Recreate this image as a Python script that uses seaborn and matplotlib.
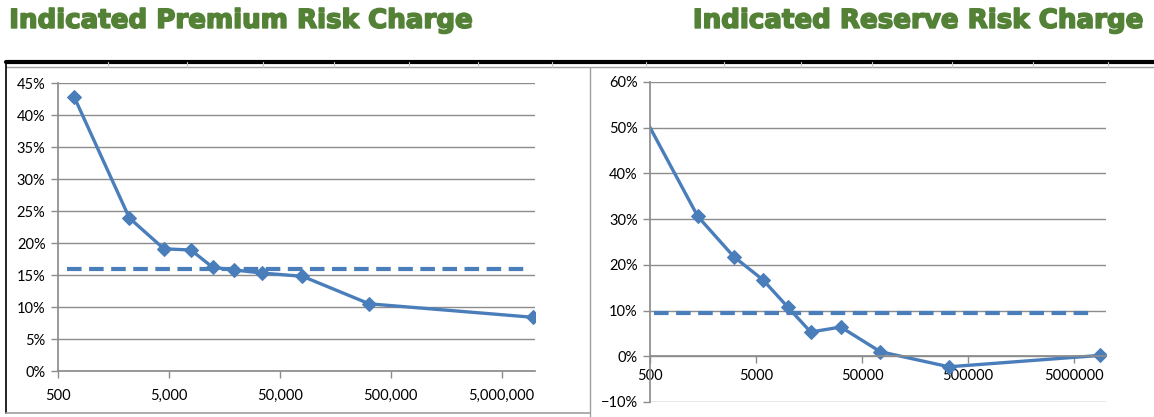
import seaborn as sns
import matplotlib.pyplot as plt
import matplotlib.ticker as mticker
import matplotlib.patheffects as pe
from matplotlib.lines import Line2D

# values
prem_x = [700, 2200, 4500, 7900, 12400, 19300, 34600, 80000, 320000, 9500000]
prem_y = [0.428, 0.239, 0.191, 0.189, 0.162, 0.158, 0.153, 0.148, 0.105, 0.084]
prem_avg_x = [600, 8000000]
prem_avg_y = [0.16, 0.16]

res_x = [420, 1410, 3080, 5820, 9930, 16400, 31500, 74400, 330000, 8870000]
res_y = [0.533, 0.306, 0.218, 0.167, 0.108, 0.053, 0.064, 0.010, -0.023, 0.002]
res_avg_x = [550, 7000000]
res_avg_y = [0.095, 0.095]

prem_ticks = [500, 5000, 50000, 500000, 5000000]
res_ticks = [500, 5000, 50000, 500000, 5000000]

sns.set_theme(style="white")
plt.rcParams['font.family'] = ['Lato', 'DejaVu Sans']

blue = '#4A7EBB'
grid = '#8c8c8c'
green = '#538135'

fig = plt.figure(figsize=(11.54, 4.17), dpi=100)

# title text above each chart (heavy, wide face like Arial Black)
thick = [pe.withStroke(linewidth=1.2, foreground=green)]
fig.text(0.008, 0.950, 'Indicated Premium Risk Charge', color=green, fontsize=18.8,
         fontweight='bold', family='DejaVu Sans', va='center', ha='left', path_effects=thick)
fig.text(0.992, 0.950, 'Indicated Reserve Risk Charge', color=green, fontsize=18.8,
         fontweight='bold', family='DejaVu Sans', va='center', ha='right', path_effects=thick)

# page frame lines (black rule + panel borders)
fig.add_artist(Line2D([0.005, 1.0], [0.851, 0.851], color='black', lw=3))
fig.add_artist(Line2D([0.005, 1.0], [0.840, 0.840], color='#a0a0a0', lw=1))
fig.add_artist(Line2D([0.005, 0.005], [0.851, 0.01], color='black', lw=1.2))
fig.add_artist(Line2D([0.005, 0.511], [0.01, 0.01], color='#a0a0a0', lw=1.2))
fig.add_artist(Line2D([0.511, 0.511], [0.840, 0.0], color='#a0a0a0', lw=1))
for xv in [0.094, 0.162, 0.228, 0.289, 0.354, 0.414, 0.478, 0.56, 0.627, 0.694, 0.756, 0.825, 0.895, 0.96]:
    fig.add_artist(Line2D([xv, xv], [0.840, 0.851], color='#c8c8c8', lw=0.8))

ax1 = fig.add_axes([0.0503, 0.1103, 0.4133, 0.6906])
ax2 = fig.add_axes([0.5633, 0.036, 0.395, 0.7674])


def style_axes(ax, ymin, ymax, ticks, fmt):
    ax.set_xscale('log')
    ax.set_xlim(500, 10000000)
    ax.set_ylim(ymin, ymax)
    ax.set_yticks([v / 100 for v in range(int(ymin * 100), int(ymax * 100) + 1, 5 if ymax < 0.5 else 10)])
    ax.yaxis.set_major_formatter(mticker.PercentFormatter(1.0, decimals=0))
    ax.set_xticks(ticks)
    ax.xaxis.set_major_formatter(mticker.FuncFormatter(fmt))
    ax.xaxis.set_minor_locator(mticker.NullLocator())
    ax.grid(axis='y', color=grid, lw=1)
    ax.set_axisbelow(True)
    for s in ['top', 'right']:
        ax.spines[s].set_visible(False)
    ax.spines['left'].set_color(grid)
    ax.spines['bottom'].set_color(grid)
    ax.spines['bottom'].set_position(('data', 0))
    ax.tick_params(axis='both', which='major', direction='out', length=5, width=1,
                   color=grid, labelsize=10.5, labelcolor='black', pad=4,
                   left=True, bottom=True)
    ax.set_xlabel('')
    ax.set_ylabel('')


sns.lineplot(x=prem_x, y=prem_y, ax=ax1, color=blue, lw=2.4, marker='D', markersize=7,
             markeredgecolor=blue)
sns.lineplot(x=prem_avg_x, y=prem_avg_y, ax=ax1, color=blue, lw=3, dashes=False,
             linestyle=(0, (3.5, 1.8)))
style_axes(ax1, 0, 0.45, prem_ticks, lambda v, p: f'{v:,.0f}')
ax1.tick_params(axis='x', pad=8)

sns.lineplot(x=res_x, y=res_y, ax=ax2, color=blue, lw=2.4, marker='D', markersize=7,
             markeredgecolor=blue)
sns.lineplot(x=res_avg_x, y=res_avg_y, ax=ax2, color=blue, lw=3, dashes=False,
             linestyle=(0, (3.5, 1.8)))
style_axes(ax2, -0.10, 0.60, res_ticks, lambda v, p: f'{v:.0f}')

fig.savefig('out.png', dpi=100)
